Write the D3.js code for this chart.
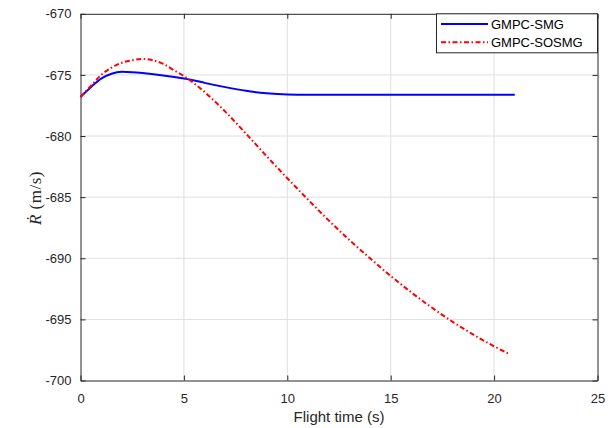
<!DOCTYPE html>
<html>
<head>
<meta charset="utf-8">
<script src="https://cdn.jsdelivr.net/npm/d3@7"></script>
<style>
  body { margin: 0; background: #fff; }
  svg { display: block; }
</style>
</head>
<body>
<div id="chart"></div>
<script>
var seriesNames = ["GMPC-SMG", "GMPC-SOSMG"];

var smgTime = [0, 0.5, 1, 1.5, 2, 2.5, 3, 4, 5, 5.5, 6, 7, 8, 9, 10, 11, 13, 16, 21];
var smgRdot = [-676.8, -676.0, -675.3, -674.9, -674.75, -674.78, -674.85, -675.05, -675.3, -675.45,
  -675.65, -676.0, -676.3, -676.5, -676.6, -676.62, -676.62, -676.62, -676.62];

var sosmgTime = [0, 0.5, 1, 1.5, 2, 2.5, 3, 3.5, 4, 4.5, 5, 5.5, 6, 7, 8, 9, 10, 11, 12, 13, 14,
  15, 16, 17, 18, 19, 20, 20.7];
var sosmgRdot = [-676.8, -675.9, -675.0, -674.4, -674.0, -673.8, -673.7, -673.8, -674.1, -674.6,
  -675.1, -675.7, -676.4, -678.0, -679.8, -681.65, -683.45, -685.2, -686.9, -688.5, -690.0,
  -691.45, -692.8, -694.05, -695.2, -696.25, -697.2, -697.8];

var xTicks = [0, 5, 10, 15, 20, 25];
var yTicks = [-670, -675, -680, -685, -690, -695, -700];

var width = 614, height = 428;
var margin = { left: 80.5, right: 16.5, top: 13.8, bottom: 47.5 };
var iw = width - margin.left - margin.right,
  ih = height - margin.top - margin.bottom;

var x = d3.scaleLinear().domain([0, 25]).range([0, iw]);
var y = d3.scaleLinear().domain([-700, -670]).range([ih, 0]);

var svg = d3.select("#chart").append("svg")
  .attr("width", width)
  .attr("height", height);

var g = svg.append("g")
  .attr("transform", "translate(" + margin.left + "," + margin.top + ")");

// grid
g.append("g").selectAll("line").data(xTicks.slice(1, -1)).enter().append("line")
  .attr("x1", d => x(d)).attr("x2", d => x(d))
  .attr("y1", 0).attr("y2", ih)
  .style("stroke", "#dfdfdf").style("stroke-width", 1);
g.append("g").selectAll("line").data(yTicks.slice(1, -1)).enter().append("line")
  .attr("y1", d => y(d)).attr("y2", d => y(d))
  .attr("x1", 0).attr("x2", iw)
  .style("stroke", "#dfdfdf").style("stroke-width", 1);

// axes
var axisColor = "#262626";
var xAxis = g.append("g").attr("transform", "translate(0," + ih + ")")
  .call(d3.axisBottom(x).tickValues(xTicks).tickFormat(d3.format("d")).tickSizeInner(-5).tickSizeOuter(0).tickPadding(13));
var yAxis = g.append("g")
  .call(d3.axisLeft(y).tickValues(yTicks).tickFormat(d => d).tickSizeInner(-5).tickSizeOuter(0).tickPadding(9));
var xTop = g.append("g")
  .call(d3.axisTop(x).tickValues(xTicks).tickFormat("").tickSizeInner(-5).tickSizeOuter(0));
var yRight = g.append("g").attr("transform", "translate(" + iw + ",0)")
  .call(d3.axisRight(y).tickValues(yTicks).tickFormat("").tickSizeInner(-5).tickSizeOuter(0));

[xAxis, yAxis, xTop, yRight].forEach(function (a) {
  a.selectAll("path, line").style("stroke", axisColor).style("stroke-width", 1);
  a.selectAll("text").style("fill", axisColor)
    .style("font-family", "'Liberation Sans', Arial, sans-serif")
    .style("font-size", "13px");
});

// curves
var line = d3.line().x(d => x(d[0])).y(d => y(d[1])).curve(d3.curveMonotoneX);

g.append("path")
  .datum(smgTime.map((t, i) => [t, smgRdot[i]]))
  .attr("d", line)
  .style("fill", "none").style("stroke", "#0000ff").style("stroke-width", 2);

g.append("path")
  .datum(sosmgTime.map((t, i) => [t, sosmgRdot[i]]))
  .attr("d", line)
  .style("fill", "none").style("stroke", "#ff0000").style("stroke-width", 2)
  .style("stroke-dasharray", "5,2.5,1.5,2.5");

// labels
svg.append("text")
  .attr("x", margin.left + iw / 2).attr("y", 422)
  .attr("text-anchor", "middle")
  .style("font-family", "'Liberation Sans', Arial, sans-serif")
  .style("font-size", "15px").style("fill", axisColor)
  .text("Flight time (s)");

var ylab = svg.append("text")
  .attr("transform", "translate(41,198) rotate(-90)")
  .attr("text-anchor", "middle")
  .style("font-family", "'Liberation Serif', 'Times New Roman', serif")
  .style("font-size", "17px").style("fill", axisColor)
  .style("letter-spacing", "0.5px");
ylab.append("tspan").style("font-style", "italic").text("\u1E58");
ylab.append("tspan").text(" (m/s)");

// legend
var lg = svg.append("g");
lg.append("rect")
  .attr("x", 436.5).attr("y", 13.8).attr("width", 161).attr("height", 39)
  .style("fill", "#fff").style("stroke", axisColor).style("stroke-width", 1);
var colors = ["#0000ff", "#ff0000"];
var dashes = [null, "5,2.5,1.5,2.5"];
seriesNames.forEach(function (name, i) {
  var yy = 24 + i * 18.3;
  lg.append("line")
    .attr("x1", 441).attr("x2", 488).attr("y1", yy).attr("y2", yy)
    .style("stroke", colors[i]).style("stroke-width", 2)
    .style("stroke-dasharray", dashes[i]);
  lg.append("text")
    .attr("x", 491).attr("y", yy + 4.5)
    .style("font-family", "'Liberation Sans', Arial, sans-serif")
    .style("font-size", "13px").style("fill", "#000")
    .text(name);
});
</script>
</body>
</html>
